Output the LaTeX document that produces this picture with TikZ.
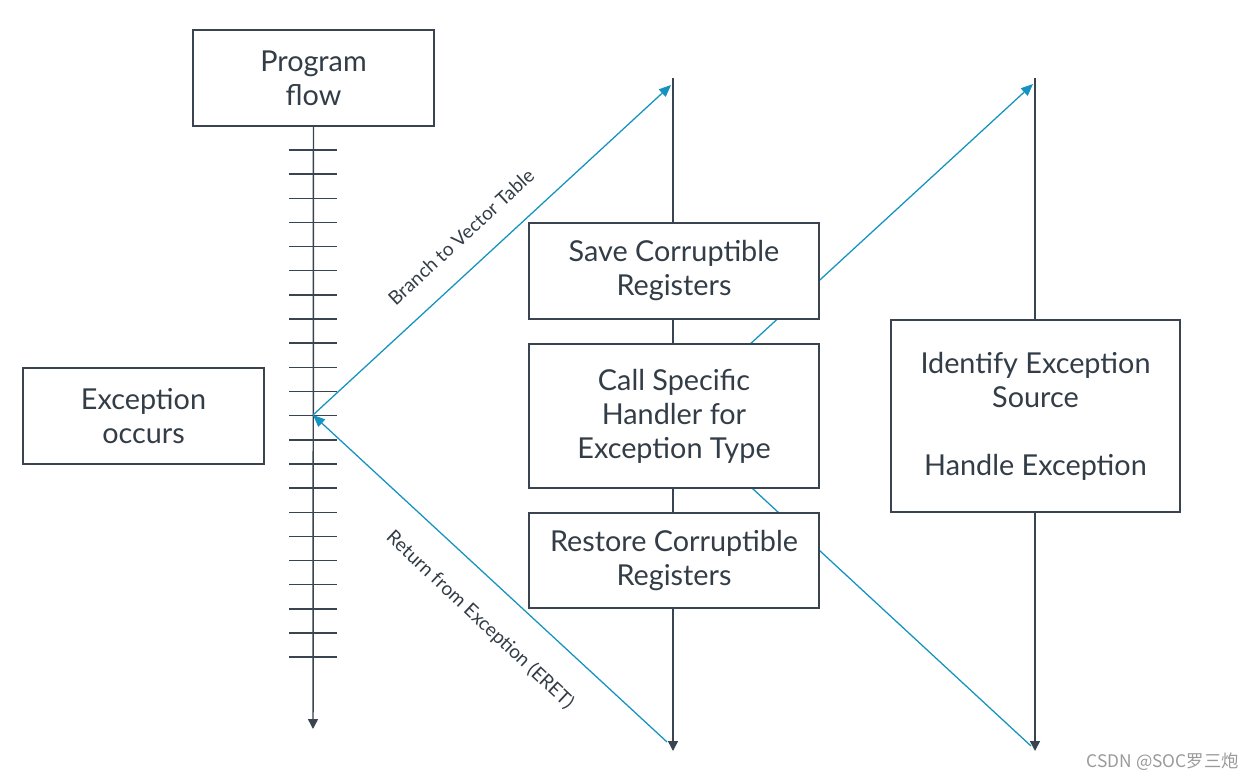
\documentclass[tikz,border=0pt]{standalone}
\usepackage{fontspec}
\setmainfont{Lato}
\newfontfamily\cjkfont{Noto Sans CJK SC}
\usetikzlibrary{arrows.meta,backgrounds}
\definecolor{ink}{HTML}{3A4350}
\definecolor{flow}{HTML}{1593C0}
\definecolor{txt}{HTML}{333D47}
\definecolor{wm}{HTML}{9A9A9A}
\begin{document}
\begin{tikzpicture}[x=0.75pt,y=-0.75pt,
  box/.style={draw=ink, line width=1.1pt, fill=white, align=center, text=txt,
    font=\fontsize{21.6}{25.5}\selectfont, inner sep=0pt},
  tl/.style={draw=ink, line width=1.1pt},
  tlarrow/.style={tl, -{Triangle[length=7.5pt,width=7.5pt]}},
  tick/.style={draw=ink, line width=1.1pt},
  blue/.style={draw=flow, line width=0.95pt},
  bluearrow/.style={blue, -{Triangle[length=9pt,width=7.5pt]}},
  lbl/.style={text=txt, font=\fontsize{14.3}{16}\selectfont, inner sep=0pt}
]
\useasboundingbox (0,0) rectangle (1254,781);

% boxes
\node[box, minimum width=180.75pt, minimum height=72pt] (prog) at (313.5,78) {Program\\flow};
\node[box, minimum width=180.75pt, minimum height=72pt] (exc) at (143.5,416) {Exception\\occurs};
\node[box, minimum width=217.5pt, minimum height=72pt] (save) at (674,271) {Save Corruptible\\Registers};
\node[box, minimum width=217.5pt, minimum height=108pt] (call) at (674,416) {Call Specific\\Handler for\\Exception Type};
\node[box, minimum width=217.5pt, minimum height=71.25pt] (rest) at (674,560.5) {Restore Corruptible\\Registers};
\node[box, minimum width=216.75pt, minimum height=144pt] (ident) at (1035.5,416) {Identify Exception\\Source\\[25.5pt]Handle Exception};

% coordinates
\coordinate (lend) at (313,729);
\coordinate (p0) at (313,415);
\coordinate (mtop) at (673,78);
\coordinate (mend) at (673,751);
\coordinate (mmid) at (673,415);
\coordinate (rtop) at (1035,78);
\coordinate (rend) at (1035,751);
\coordinate (b1e) at (671,85);
\coordinate (b2e) at (1033,84);
\coordinate (b3e) at (1031,746);
\coordinate (b4s) at (667,742);

\begin{scope}[on background layer]
  \fill[white] (0,0) rectangle (1254,781);
  \draw[tlarrow] (prog.south) -- (lend);
  \foreach \i in {0,...,21} {
    \pgfmathsetmacro{\yy}{150+24.15*\i}
    \draw[tick] (289,\yy) -- (337,\yy);
  }
  \draw[tlarrow] (mtop) -- (mend);
  \draw[tlarrow] (rtop) -- (rend);
  \draw[bluearrow] (p0) -- (b1e);
  \draw[bluearrow] (mmid) -- (b2e);
  \draw[blue] (mmid) -- (b3e);
  \draw[bluearrow] (b4s) -- (p0);
\end{scope}

% labels
\node[lbl, rotate=42.6] (lb1) at (461,237) {Branch to Vector Table};
\node[lbl, rotate=-43.2] (lb2) at (480,620) {Return from Exception (ERET)};

% watermark
\node[anchor=east, text=wm, font=\cjkfont\fontsize{13}{15}\selectfont, inner sep=0pt] (wmk) at (1239,762) {CSDN @SOC罗三炮};
\end{tikzpicture}
\end{document}
